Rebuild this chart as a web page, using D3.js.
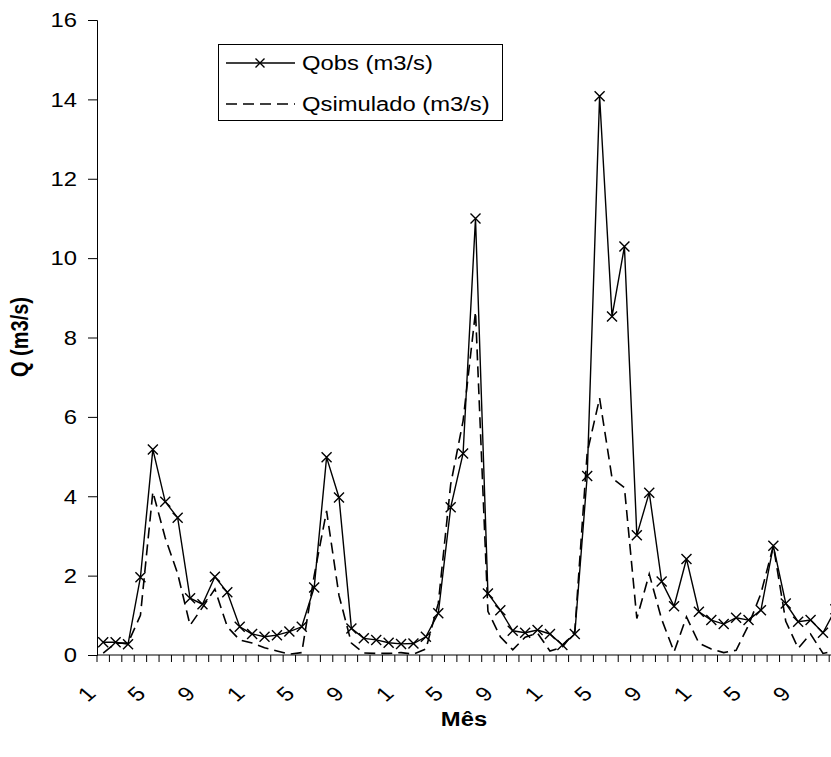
<!DOCTYPE html>
<html>
<head>
<meta charset="utf-8">
<script src="https://cdn.jsdelivr.net/npm/d3@7"></script>
<style>
  html, body { margin: 0; padding: 0; background: #fff; }
  svg { display: block; }
  text { font-family: "Liberation Sans", Arial, sans-serif; fill: #000; }
</style>
</head>
<body>
<svg id="chart" width="831" height="757"></svg>
<script>
// Mês (1..12) over five years
const meses = [
  "1","2","3","4","5","6","7","8","9","10","11","12",
  "1","2","3","4","5","6","7","8","9","10","11","12",
  "1","2","3","4","5","6","7","8","9","10","11","12",
  "1","2","3","4","5","6","7","8","9","10","11","12",
  "1","2","3","4","5","6","7","8","9","10","11","12"
];

// Vazão observada (m3/s)
const qObs = [
  0.32, 0.32, 0.27, 1.96, 5.18, 3.86, 3.46, 1.43, 1.28, 1.97, 1.58, 0.71,
  0.53, 0.46, 0.50, 0.59, 0.71, 1.70, 4.98, 3.97, 0.67, 0.42, 0.38, 0.31,
  0.28, 0.29, 0.46, 1.05, 3.72, 5.08, 11.00, 1.55, 1.13, 0.61, 0.56, 0.63,
  0.53, 0.25, 0.53, 4.51, 14.08, 8.53, 10.29, 3.02, 4.09, 1.85, 1.23, 2.42,
  1.09, 0.88, 0.78, 0.94, 0.88, 1.13, 2.75, 1.30, 0.84, 0.88, 0.56, 1.15
];

// Vazão simulada (m3/s)
const qSim = [
  0.05, 0.30, 0.30, 1.00, 4.11, 2.95, 2.05, 0.75, 1.20, 1.66, 0.71, 0.38,
  0.30, 0.18, 0.10, 0.02, 0.06, 2.00, 3.63, 1.50, 0.30, 0.05, 0.04, 0.04,
  0.06, 0.02, 0.15, 1.30, 4.30, 5.90, 8.65, 1.10, 0.46, 0.13, 0.45, 0.55,
  0.10, 0.20, 0.60, 5.10, 6.47, 4.46, 4.22, 0.92, 2.04, 0.90, 0.08, 0.96,
  0.30, 0.15, 0.06, 0.12, 0.75, 1.55, 2.75, 0.85, 0.17, 0.53, 0.04, 0.10
];

const yTicks = [0, 2, 4, 6, 8, 10, 12, 14, 16];
const seriesNames = ["Qobs (m3/s)", "Qsimulado (m3/s)"];
const xTitle = "Mês";
const yTitle = "Q (m3/s)";

const svg = d3.select("#chart");
const plotLeft = 97, plotTop = 20, plotBottom = 655, step = 12.41;
const FS = 20, SX = 1.19;   // text size and horizontal text stretch

const idx = d3.range(meses.length);
const x = d3.scaleBand().domain(idx).range([plotLeft, plotLeft + step * meses.length]).padding(0);
const y = d3.scaleLinear().domain([0, 16]).range([plotBottom, plotTop]);
const cx = i => x(i) + x.bandwidth() / 2;

// Y axis
const yAxis = svg.append("g")
  .attr("transform", `translate(${plotLeft},0)`)
  .call(d3.axisLeft(y).tickValues(yTicks).tickSize(9).tickFormat(d3.format("d")));
yAxis.select(".domain").attr("stroke", "#000").attr("stroke-width", 1);
yAxis.selectAll(".tick line").attr("stroke", "#000");
yAxis.selectAll(".tick text")
  .attr("x", null).attr("dy", null)
  .attr("dominant-baseline", "central")
  .attr("text-anchor", "end")
  .attr("transform", `translate(-20,0) scale(${SX},1)`)
  .style("font-size", FS + "px")
  .style("font-family", "'Liberation Sans', Arial, sans-serif");

// X axis line and tick marks at category boundaries
const xAxis = svg.append("g");
xAxis.append("line")
  .attr("x1", plotLeft).attr("x2", x.range()[1])
  .attr("y1", plotBottom).attr("y2", plotBottom)
  .attr("stroke", "#000");
xAxis.selectAll("line.tk")
  .data(d3.range(meses.length + 1))
  .join("line")
  .attr("class", "tk")
  .attr("x1", i => plotLeft + i * x.step()).attr("x2", i => plotLeft + i * x.step())
  .attr("y1", plotBottom).attr("y2", plotBottom + 7)
  .attr("stroke", "#000");

// Month labels every 4th category, rotated
xAxis.selectAll("text.ml")
  .data(idx.filter(i => i % 4 === 0))
  .join("text")
  .attr("class", "ml")
  .attr("text-anchor", "end")
  .attr("transform", i => `translate(${cx(i) - 6},${plotBottom + 40}) scale(${SX},1) rotate(-45)`)
  .style("font-size", FS + "px")
  .text(i => meses[i]);

// Axis titles
svg.append("text")
  .attr("text-anchor", "middle")
  .attr("transform", `translate(464,726) scale(${SX},1)`)
  .style("font-size", FS + "px")
  .style("font-weight", "bold")
  .text(xTitle);

svg.append("text")
  .attr("text-anchor", "middle")
  .attr("transform", `translate(28,337) scale(${SX},1) rotate(-90)`)
  .style("font-size", FS + "px")
  .style("font-weight", "bold")
  .text(yTitle);

// Series lines
const line = d3.line().x((d, i) => cx(i)).y(d => y(d));

svg.append("path")
  .datum(qSim)
  .attr("fill", "none")
  .attr("stroke", "#000")
  .attr("stroke-width", 1.6)
  .attr("stroke-dasharray", "11,6")
  .attr("d", line);

svg.append("path")
  .datum(qObs)
  .attr("fill", "none")
  .attr("stroke", "#000")
  .attr("stroke-width", 1.4)
  .attr("d", line);

const cross = r => `M${-r},${-r}L${r},${r}M${-r},${r}L${r},${-r}`;
svg.append("g").selectAll("path")
  .data(qObs)
  .join("path")
  .attr("transform", (d, i) => `translate(${cx(i)},${y(d)})`)
  .attr("d", cross(5))
  .attr("stroke", "#000")
  .attr("stroke-width", 1.4)
  .attr("fill", "none");

// Legend
const lg = svg.append("g");
lg.append("rect")
  .attr("x", 218.5).attr("y", 44.5)
  .attr("width", 284).attr("height", 76)
  .attr("fill", "#fff").attr("stroke", "#000");

const rows = [63, 104];
lg.append("line")
  .attr("x1", 226).attr("x2", 295).attr("y1", rows[0]).attr("y2", rows[0])
  .attr("stroke", "#000").attr("stroke-width", 1.4);
lg.append("path")
  .attr("transform", `translate(260,${rows[0]})`)
  .attr("d", cross(4.5))
  .attr("stroke", "#000").attr("stroke-width", 1.4);
lg.append("line")
  .attr("x1", 226).attr("x2", 295).attr("y1", rows[1]).attr("y2", rows[1])
  .attr("stroke", "#000").attr("stroke-width", 1.6)
  .attr("stroke-dasharray", "11,6");

lg.selectAll("text")
  .data(seriesNames)
  .join("text")
  .attr("dominant-baseline", "central")
  .attr("transform", (d, i) => `translate(302,${rows[i]}) scale(${SX},1)`)
  .style("font-size", FS + "px")
  .text(d => d);
</script>
</body>
</html>
